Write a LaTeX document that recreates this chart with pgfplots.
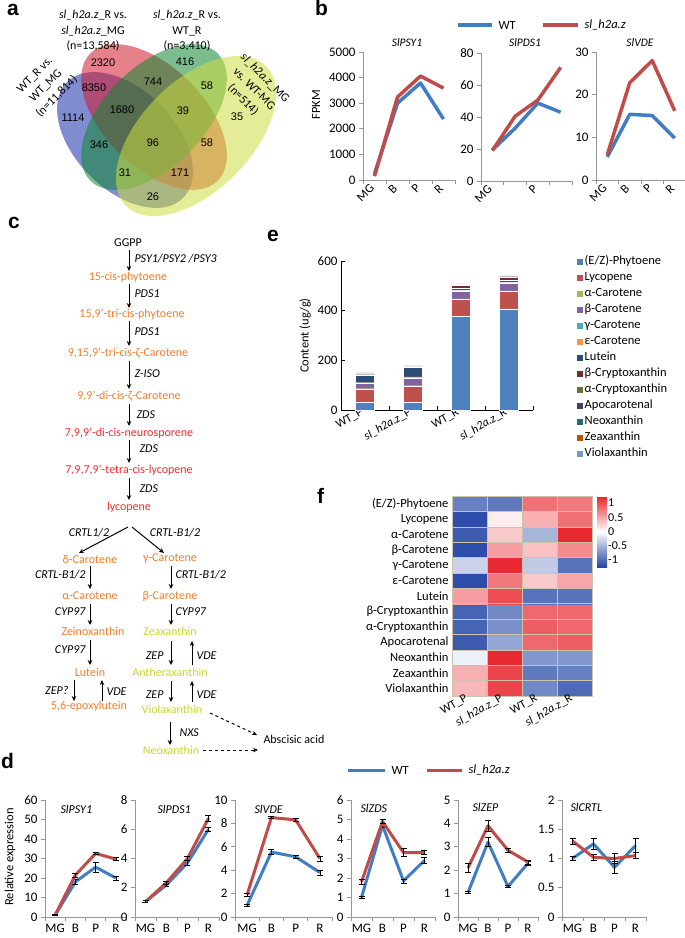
\documentclass[border=0pt]{standalone}
\usepackage{pgfplots}
\pgfplotsset{compat=1.18}
\usepackage{fontspec}
\setmainfont{Carlito}
\newfontfamily\arialf{Liberation Sans}
\usetikzlibrary{arrows.meta}
\newcommand{\fs}[1]{\fontsize{#1}{#1}\selectfont}
\newcommand{\slz}{\textit{sl\_h2a.z}}
\definecolor{lblue}{RGB}{65,125,195}
\definecolor{lred}{RGB}{192,75,72}
\definecolor{porange}{RGB}{240,125,45}
\definecolor{pred}{RGB}{242,45,45}
\definecolor{pyg}{RGB}{200,215,45}
\definecolor{vblue}{RGB}{25,45,170}
\definecolor{vred}{RGB}{210,25,45}
\definecolor{vgreen}{RGB}{15,135,50}
\definecolor{vyellow}{RGB}{205,220,65}
\definecolor{axgray}{RGB}{150,150,150}
\definecolor{hgrid}{RGB}{205,195,170}
\definecolor{c1}{HTML}{4F81BD}
\definecolor{c2}{HTML}{C0504D}
\definecolor{c3}{HTML}{9BBB59}
\definecolor{c4}{HTML}{8064A2}
\definecolor{c5}{HTML}{4BACC6}
\definecolor{c6}{HTML}{F79646}
\definecolor{c7}{HTML}{2C4D75}
\definecolor{c8}{HTML}{772C2A}
\definecolor{c9}{HTML}{5F7530}
\definecolor{c10}{HTML}{4D3B62}
\definecolor{c11}{HTML}{276A7C}
\definecolor{c12}{HTML}{B65708}
\definecolor{c13}{HTML}{729ACA}
\pgfplotsset{
  every axis/.append style={/pgf/number format/assume math mode=true,/pgf/number format/1000 sep={},scaled y ticks=false,scale only axis},
  xl/.style={xmin=-0.5,xmax=3.5,ymin=0,
    axis x line=bottom,axis y line=left,
    axis line style={axgray,line width=0.8pt,-},
    every outer x axis line/.append style={-},
    every outer y axis line/.append style={-},
    xtick={-0.5,0.5,1.5,2.5,3.5},xticklabels={},
    extra x ticks={0,1,2,3},
    extra x tick style={tick style={draw=none}},
    tick style={axgray,line width=0.8pt},
    major tick length=4pt,tick align=outside,clip=false},
  wt/.style={lblue,line width=3pt,line join=round},
  mu/.style={lred,line width=3pt,line join=round},
  eb/.style={error bars/y dir=both,error bars/y explicit,
    error bars/error bar style={black,line width=0.7pt},
    error bars/error mark options={black,rotate=90,mark size=3pt,line width=0.7pt}},
}
\tikzset{arr/.style={line width=1pt,-{Stealth[length=5pt,width=4.5pt]}},
  en/.style={font=\fs{12}\itshape,anchor=west},
  ee/.style={font=\fs{12}\itshape,anchor=east}}
\begin{document}
\begin{tikzpicture}[x=1pt,y=1pt]
\useasboundingbox (0,0) rectangle (685,-938);
% ---------- panel letters
\begin{scope}[font=\arialf\bfseries\fs{21}]
\node[anchor=base west,inner sep=0] at (7,-15) {a};
\node[anchor=base west,inner sep=0] at (315,-15) {b};
\node[anchor=base west,inner sep=0] at (8,-228) {c};
\node[anchor=base west,inner sep=0] at (267,-241) {e};
\node[anchor=base west,inner sep=0] at (317,-503) {f};
\node[anchor=base west,inner sep=0] at (1,-768) {d};
\end{scope}
% ---------- panel a: Venn
\begin{scope}[fill opacity=0.55]
\fill[vblue,rotate around={-45:(125,-140)}] (125,-140) ellipse (82 and 50);
\fill[vred,rotate around={-45:(154,-117)}] (154,-117) ellipse (90 and 50);
\fill[vgreen,rotate around={45:(154,-117)}] (154,-117) ellipse (90 and 50);
\fill[vyellow,rotate around={45:(196,-136)}] (196,-136) ellipse (99 and 55);
\end{scope}
\begin{scope}[font=\arialf\fs{11}]
\node at (103,-63) {2320};
\node at (185,-62) {416};
\node at (94,-88) {8350};
\node at (153,-82) {744};
\node at (207,-86) {58};
\node at (122,-110) {1680};
\node at (183,-111) {39};
\node at (73,-118) {1114};
\node at (237,-117) {35};
\node at (99,-145) {346};
\node at (153,-143) {96};
\node at (207,-143) {58};
\node at (125,-173) {31};
\node at (180,-173) {171};
\node at (153,-197) {26};
\end{scope}
\begin{scope}[font=\fontsize{12}{15.5}\selectfont,align=center]
\node at (93,-31) {\slz\_R vs.\\\slz\_MG\\(n=13,584)};
\node at (187,-31) {\slz\_R vs.\\WT\_R\\(n=3,410)};
\node[rotate=45] at (46,-86) {WT\_R vs.\\WT\_MG\\(n=11,814)};
\node[rotate=-45] at (254,-89) {\slz\_MG\\vs. WT-MG\\(n=514)};
\end{scope}
% ---------- panel b
\draw[lblue,line width=3.3pt] (458,-25) -- (492,-25);
\node[anchor=west,font=\fs{12.5}] at (495,-25) {WT};
\draw[lred,line width=3.3pt] (543,-25) -- (578,-25);
\node[anchor=west,font=\fs{12.5}] at (581,-25) {\slz};
\node[font=\fs{11.5}\itshape] at (407,-43) {SlPSY1};
\node[font=\fs{11.5}\itshape] at (525,-43) {SlPDS1};
\node[font=\fs{11.5}\itshape] at (640,-43) {SlVDE};
\node[rotate=90,font=\fs{12.5}] at (316,-105) {FPKM};
\begin{axis}[xl,at={(363pt,-180pt)},anchor=south west,width=92pt,height=128pt,
  ymax=5000,ytick={0,1000,...,5000},extra x tick labels={MG,B,P,R},
  xticklabel style={rotate=45,anchor=east,font=\fs{12.5}},yticklabel style={font=\fs{13}}]
\addplot[wt,line width=3.5pt] coordinates {(0,250) (1,3000) (2,3790) (3,2380)};
\addplot[mu,line width=3.5pt] coordinates {(0,150) (1,3240) (2,4060) (3,3590)};
\end{axis}
\begin{axis}[xl,at={(481pt,-181pt)},anchor=south west,width=91pt,height=128pt,
  ymax=80,ytick={0,20,...,80},extra x tick labels={MG,,P,},
  xticklabel style={rotate=45,anchor=east,font=\fs{12.5}},yticklabel style={font=\fs{13}}]
\addplot[wt,line width=3.5pt] coordinates {(0,19.4) (1,33) (2,48.7) (3,43)};
\addplot[mu,line width=3.5pt] coordinates {(0,19) (1,40.5) (2,50.6) (3,71)};
\end{axis}
\begin{axis}[xl,at={(596pt,-180pt)},anchor=south west,width=90pt,height=128pt,
  ymax=30,ytick={0,10,20,30},extra x tick labels={MG,B,P,R},
  xticklabel style={rotate=45,anchor=east,font=\fs{12.5}},yticklabel style={font=\fs{13}}]
\addplot[wt,line width=3.5pt] coordinates {(0,5.4) (1,15.4) (2,15.1) (3,9.8)};
\addplot[mu,line width=3.5pt] coordinates {(0,5.9) (1,22.8) (2,28) (3,16.2)};
\end{axis}
% ---------- panel c: pathway
\begin{scope}[font=\fs{12}]
\node at (128,-243) {GGPP};
\draw[arr] (129,-250) -- (129,-271);
\node[en] at (131,-259) {PSY1/PSY2 /PSY3};
\node[porange] at (128,-277) {15-cis-phytoene};
\draw[arr] (129,-284) -- (129,-308);
\node[en] at (131,-294) {PDS1};
\node[porange] at (132,-314) {15,9’-tri-cis-phytoene};
\draw[arr] (129,-321) -- (129,-346);
\node[en] at (131,-332) {PDS1};
\node[porange] at (128,-353) {9,15,9’-tri-cis-ζ-Carotene};
\draw[arr] (129,-361) -- (129,-389);
\node[en] at (131,-374) {Z-ISO};
\node[porange] at (129,-396) {9,9’-di-cis-ζ-Carotene};
\draw[arr] (129,-404) -- (129,-426);
\node[en] at (133,-415) {ZDS};
\node[pred] at (129,-433) {7,9,9’-di-cis-neurosporene};
\draw[arr] (129,-440) -- (129,-463);
\node[en] at (136,-449) {ZDS};
\node[pred] at (129,-470) {7,9,7,9’-tetra-cis-lycopene};
\draw[arr] (129,-478) -- (129,-500);
\node[en] at (136,-489) {ZDS};
\node[pred] at (129,-507) {lycopene};
\draw[arr] (128,-527) -- (79,-553);
\draw[arr] (132,-527) -- (164,-553);
\node[font=\fs{12}\itshape] at (89,-533) {CRTL1/2};
\node[font=\fs{12}\itshape] at (175,-533) {CRTL-B1/2};
\node[porange] at (90,-559) {δ-Carotene};
\node[porange] at (170,-559) {γ-Carotene};
\draw[arr] (90,-566) -- (90,-589);
\node[ee] at (89,-575) {CRTL-B1/2};
\draw[arr] (171,-566) -- (171,-589);
\node[en] at (172,-575) {CRTL-B1/2};
\node[porange] at (90,-596) {α-Carotene};
\node[porange] at (170,-596) {β-Carotene};
\draw[arr] (90,-604) -- (90,-625);
\node[ee] at (89,-612) {CYP97};
\draw[arr] (171,-604) -- (171,-625);
\node[en] at (172,-612) {CYP97};
\node[porange] at (93,-631) {Zeinoxanthin};
\node[pyg] at (170,-631) {Zeaxanthin};
\draw[arr] (90,-640) -- (90,-665);
\node[ee] at (89,-650) {CYP97};
\draw[arr] (171,-641) -- (171,-665);
\node[ee] at (167,-656) {ZEP};
\draw[arr] (192,-665) -- (192,-641);
\node[en] at (193,-656) {VDE};
\node[porange] at (90,-672) {Lutein};
\node[pyg] at (170,-672) {Antheraxanthin};
\draw[arr] (74,-680) -- (74,-701);
\node[ee] at (72,-690) {ZEP?};
\draw[arr] (102,-701) -- (102,-680);
\node[en] at (103,-692) {VDE};
\draw[arr] (171,-681) -- (171,-702);
\node[ee] at (167,-695) {ZEP};
\draw[arr] (192,-702) -- (192,-681);
\node[en] at (193,-695) {VDE};
\node[porange] at (89,-706) {5,6-epoxylutein};
\node[pyg] at (172,-709) {Violaxanthin};
\draw[arr] (170,-722) -- (170,-745);
\node[en] at (176,-733) {NXS};
\node[pyg] at (171,-750) {Neoxanthin};
\draw[arr,dashed] (210,-713) -- (257,-735);
\draw[arr,dashed] (203,-750) -- (258,-750);
\node[anchor=west] at (260,-739) {Abscisic acid};
\end{scope}
% ---------- panel e
\begin{axis}[at={(341pt,-410pt)},anchor=south west,width=192pt,height=149pt,
  ybar stacked,bar width=19pt,xmin=-0.5,xmax=3.5,ymin=0,ymax=600,ytick={0,200,400,600},
  axis x line=bottom,axis y line=left,axis line style={black,line width=0.8pt,-},
  every outer x axis line/.append style={-},every outer y axis line/.append style={-},
  xtick={-0.5,0.5,1.5,2.5,3.5},xticklabels={},
  extra x ticks={0,1,2,3},extra x tick labels={WT\_P,\slz\_P,WT\_R,\slz\_R},
  extra x tick style={tick style={draw=none}},
  xticklabel style={rotate=30,anchor=east,font=\fs{12}},
  tick align=inside,major tick length=4pt,tick style={black,line width=0.8pt},
  yticklabel style={font=\fs{13}},
  ylabel={Content (ug/g)},ylabel style={font=\fs{12.5}},
  legend cell align=left,
  legend style={at={(1.225,1.047)},anchor=north west,draw=none,fill=none,font=\fs{12.5},
    row sep=2pt,inner sep=0pt,nodes={inner sep=1pt,text height=9pt,text depth=3pt}},
  legend image code/.code={\fill[#1] (0pt,-3.5pt) rectangle (7pt,3.5pt);},
  clip=false]
\addplot[fill=c1,draw=white,line width=0.3pt] coordinates {(0,30) (1,32) (2,378) (3,407)};
\addplot[fill=c2,draw=white,line width=0.3pt] coordinates {(0,55) (1,65) (2,69) (3,72)};
\addplot[fill=c3,draw=white,line width=0.3pt] coordinates {(0,1) (1,1) (2,1) (3,1)};
\addplot[fill=c4,draw=white,line width=0.3pt] coordinates {(0,22) (1,32) (2,32) (3,32)};
\addplot[fill=c5,draw=white,line width=0.3pt] coordinates {(0,1) (1,2) (2,1) (3,1)};
\addplot[fill=c6,draw=white,line width=0.3pt] coordinates {(0,1) (1,1) (2,1) (3,1)};
\addplot[fill=c7,draw=white,line width=0.3pt] coordinates {(0,32) (1,38) (2,10) (3,10)};
\addplot[fill=c8,draw=white,line width=0.3pt] coordinates {(0,4) (1,3) (2,10) (3,10)};
\addplot[fill=c9,draw=white,line width=0.3pt] coordinates {(0,1) (1,1) (2,1) (3,1)};
\addplot[fill=c10,draw=white,line width=0.3pt] coordinates {(0,2) (1,2) (2,2) (3,2)};
\addplot[fill=c11,draw=white,line width=0.3pt] coordinates {(0,1) (1,1) (2,1) (3,1)};
\addplot[fill=c12,draw=white,line width=0.3pt] coordinates {(0,1) (1,1) (2,1) (3,1)};
\addplot[fill=c13,draw=white,line width=0.3pt] coordinates {(0,1) (1,1) (2,1) (3,1)};
\legend{(E/Z)-Phytoene,Lycopene,α-Carotene,β-Carotene,γ-Carotene,ε-Carotene,Lutein,β-Cryptoxanthin,α-Cryptoxanthin,Apocarotenal,Neoxanthin,Zeaxanthin,Violaxanthin}
\end{axis}
% ---------- panel f
\begin{axis}[at={(452pt,-696pt)},anchor=south west,width=140pt,height=200pt,
  xmin=-0.5,xmax=3.5,ymin=-0.5,ymax=12.5,enlargelimits=false,
  colormap={hm}{rgb255=(35,70,165) rgb255=(255,255,255) rgb255=(232,32,40)},
  point meta min=-1.25,point meta max=1.25,
  xtick={0,1,2,3},xticklabels={WT\_P,\slz\_P,WT\_R,\slz\_R},
  xticklabel style={rotate=30,anchor=east,font=\fs{12}},
  ytick={0,...,12},
  yticklabels={Violaxanthin,Zeaxanthin,Neoxanthin,Apocarotenal,α-Cryptoxanthin,β-Cryptoxanthin,Lutein,ε-Carotene,γ-Carotene,β-Carotene,α-Carotene,Lycopene,(E/Z)-Phytoene},
  yticklabel style={font=\fs{12.5}},
  tick style={draw=none},
  minor xtick={0.5,1.5,2.5},minor ytick={0.5,1.5,...,11.5},grid=minor,
  minor grid style={hgrid,line width=0.5pt},
  axis line style={hgrid,line width=0.6pt},
  axis on top,
  colorbar,
  colorbar style={at={(1.036,1)},anchor=north west,width=10pt,height=71pt,
    ytick={-1,-0.5,0,0.5,1},yticklabel style={font=\fs{12},inner sep=1pt},
    tick style={draw=none},axis line style={draw=none}}]
\addplot[matrix plot*,mesh/cols=4,point meta=explicit] coordinates {
(0,0) [0.4] (1,0) [1.05] (2,0) [-0.8] (3,0) [-1.0]
(0,1) [0.45] (1,1) [1.05] (2,1) [-0.9] (3,1) [-0.85]
(0,2) [-0.1] (1,2) [1.2] (2,2) [-0.7] (3,2) [-0.7]
(0,3) [-1.1] (1,3) [-0.6] (2,3) [0.85] (3,3) [0.9]
(0,4) [-1.05] (1,4) [-0.75] (2,4) [0.9] (3,4) [0.85]
(0,5) [-1.05] (1,5) [-0.8] (2,5) [0.85] (3,5) [0.85]
(0,6) [0.55] (1,6) [1.0] (2,6) [-0.95] (3,6) [-0.95]
(0,7) [-1.2] (1,7) [0.75] (2,7) [0.3] (3,7) [0.5]
(0,8) [-0.3] (1,8) [1.2] (2,8) [-0.35] (3,8) [-0.95]
(0,9) [-1.2] (1,9) [0.55] (2,9) [0.35] (3,9) [0.65]
(0,10) [-1.1] (1,10) [0.3] (2,10) [-0.5] (3,10) [1.2]
(0,11) [-1.2] (1,11) [0.1] (2,11) [0.45] (3,11) [0.8]
(0,12) [-0.85] (1,12) [-0.9] (2,12) [0.8] (3,12) [0.75]
};
\end{axis}
% ---------- panel d
\draw[lblue,line width=3pt] (348,-770) -- (385,-770);
\node[anchor=west,font=\fs{12.5}] at (388,-770) {WT};
\draw[lred,line width=3pt] (427,-770) -- (462,-770);
\node[anchor=west,font=\fs{12.5}] at (465,-770) {\slz};
\node[rotate=90,font=\fs{12.5}] at (10,-857) {Relative expression};
\begin{scope}[font=\fs{12}\itshape]
\node[anchor=west] at (57,-809) {SlPSY1};
\node[anchor=west] at (154,-809) {SlPDS1};
\node[anchor=west] at (251,-809) {SlVDE};
\node[anchor=west] at (357,-808) {SlZDS};
\node[anchor=west] at (469,-807) {SlZEP};
\node[anchor=west] at (567,-807) {SlCRTL};
\end{scope}
\begin{axis}[xl,at={(45pt,-917pt)},anchor=south west,width=81pt,height=117pt,
  ymax=60,ytick={0,10,...,60},extra x tick labels={MG,B,P,R},
  xticklabel style={font=\fs{13}},yticklabel style={font=\fs{13}}]
\addplot[wt,eb] coordinates {(0,1) +- (0,0.2) (1,18) +- (0,1.5) (2,25.6) +- (0,2.5) (3,20) +- (0,1)};
\addplot[mu,eb] coordinates {(0,1) +- (0,0.2) (1,21.5) +- (0,1) (2,32.6) +- (0,0.7) (3,29.7) +- (0,0.7)};
\end{axis}
\begin{axis}[xl,at={(135pt,-917pt)},anchor=south west,width=84pt,height=117pt,
  ymax=8,ytick={0,2,...,8},extra x tick labels={MG,B,P,R},
  xticklabel style={font=\fs{13}},yticklabel style={font=\fs{13}}]
\addplot[wt,eb] coordinates {(0,1.05) +- (0,0.08) (1,2.2) +- (0,0.1) (2,3.7) +- (0,0.2) (3,6.0) +- (0,0.15)};
\addplot[mu,eb] coordinates {(0,1.05) +- (0,0.08) (1,2.35) +- (0,0.1) (2,4.0) +- (0,0.15) (3,6.75) +- (0,0.2)};
\end{axis}
\begin{axis}[xl,at={(235pt,-917pt)},anchor=south west,width=97pt,height=117pt,
  ymax=10,ytick={0,2,...,10},extra x tick labels={MG,B,P,R},
  xticklabel style={font=\fs{13}},yticklabel style={font=\fs{13}}]
\addplot[wt,eb] coordinates {(0,1.0) +- (0,0.1) (1,5.55) +- (0,0.2) (2,5.15) +- (0,0.15) (3,3.8) +- (0,0.2)};
\addplot[mu,eb] coordinates {(0,1.9) +- (0,0.15) (1,8.5) +- (0,0.1) (2,8.3) +- (0,0.15) (3,5.0) +- (0,0.2)};
\end{axis}
\begin{axis}[xl,at={(351pt,-917pt)},anchor=south west,width=84pt,height=117pt,
  ymax=6,ytick={0,1,...,6},extra x tick labels={MG,B,P,R},
  xticklabel style={font=\fs{13}},yticklabel style={font=\fs{13}}]
\addplot[wt,eb] coordinates {(0,1.0) +- (0,0.05) (1,4.7) +- (0,0.1) (2,1.85) +- (0,0.1) (3,2.9) +- (0,0.15)};
\addplot[mu,eb] coordinates {(0,1.8) +- (0,0.15) (1,4.9) +- (0,0.1) (2,3.3) +- (0,0.2) (3,3.3) +- (0,0.1)};
\end{axis}
\begin{axis}[xl,at={(458pt,-917pt)},anchor=south west,width=80pt,height=117pt,
  ymax=5,ytick={0,1,...,5},extra x tick labels={MG,B,P,R},
  xticklabel style={font=\fs{13}},yticklabel style={font=\fs{13}}]
\addplot[wt,eb] coordinates {(0,1.05) +- (0,0.05) (1,3.2) +- (0,0.2) (2,1.3) +- (0,0.05) (3,2.3) +- (0,0.08)};
\addplot[mu,eb] coordinates {(0,2.1) +- (0,0.2) (1,3.9) +- (0,0.25) (2,2.85) +- (0,0.1) (3,2.35) +- (0,0.08)};
\end{axis}
\begin{axis}[xl,at={(562pt,-917pt)},anchor=south west,width=84pt,height=117pt,
  ymax=2,ytick={0,0.5,...,2},extra x tick labels={MG,B,P,R},
  xticklabel style={font=\fs{13}},yticklabel style={font=\fs{13}}]
\addplot[wt,eb] coordinates {(0,1.0) +- (0,0.03) (1,1.25) +- (0,0.1) (2,0.85) +- (0,0.1) (3,1.22) +- (0,0.12)};
\addplot[mu,eb] coordinates {(0,1.3) +- (0,0.05) (1,1.02) +- (0,0.05) (2,1.0) +- (0,0.08) (3,1.05) +- (0,0.05)};
\end{axis}
\end{tikzpicture}
\end{document}
